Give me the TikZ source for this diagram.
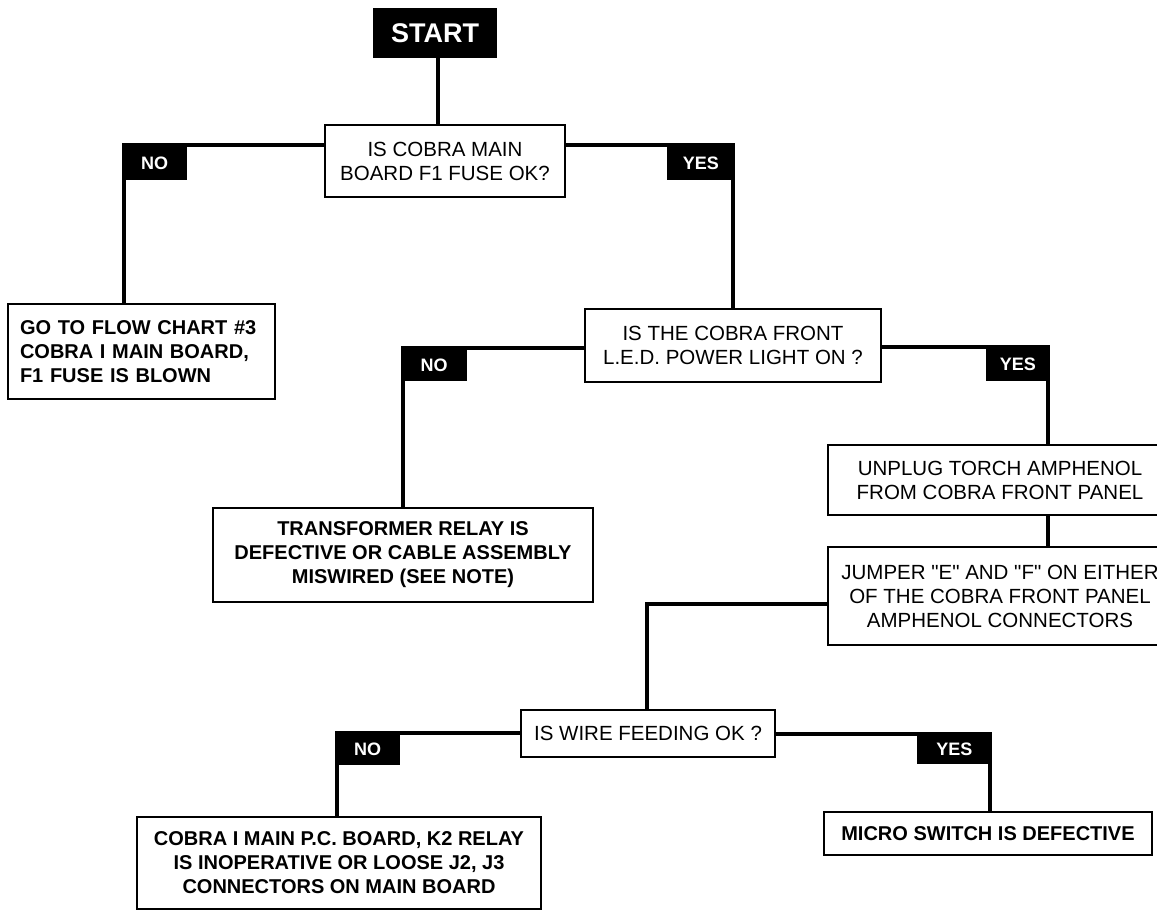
\documentclass[tikz,border=0pt]{standalone}
\usepackage{fontspec}
\setmainfont{Liberation Sans}
\newfontfamily\plainq{Liberation Sans}[Ligatures=ResetAll]
\newcommand{\sq}{{\plainq\symbol{34}}}
\begin{document}
\begin{tikzpicture}[x=1pt,y=-1pt,
  box/.style={draw=black,line width=1.8pt,fill=white,inner sep=0pt,align=center,
    font=\fontsize{20.5}{24}\selectfont},
  qbox/.style={box},
  rbox/.style={box,font=\fontsize{20}{24}\selectfont\bfseries},
  lab/.style={fill=black,text=white,inner sep=0pt,minimum height=34pt,
    font=\fontsize{18}{20}\selectfont\bfseries},
  conn/.style={draw=black,line width=3.6pt}]
\useasboundingbox (0,0) rectangle (1157,911);
\clip (0,0) rectangle (1157,911);
% nodes
\node[fill=black,text=white,inner sep=0pt,minimum width=124pt,minimum height=50pt,
  font=\fontsize{27}{30}\selectfont\bfseries] (start) at (435,33) {START};
\node[qbox,minimum width=240pt,minimum height=72pt] (q1) at (445,161)
  {IS COBRA MAIN\\BOARD F1 FUSE OK?};
\node[rbox,minimum width=267pt,minimum height=95pt,text width=255pt,align=left,inner xsep=6pt] (r1) at (141.5,351.5)
  {\hspace*{6pt}GO TO FLOW CHART \#3\\\hspace*{6pt}COBRA I MAIN BOARD,\\\hspace*{6pt}F1 FUSE IS BLOWN};
\node[qbox,minimum width=296pt,minimum height=73pt] (q2) at (733,345.5)
  {IS THE COBRA FRONT\\L.E.D. POWER LIGHT ON ?};
\node[rbox,minimum width=380pt,minimum height=94pt] (r2) at (403,555)
  {TRANSFORMER RELAY IS\\DEFECTIVE OR CABLE ASSEMBLY\\MISWIRED (SEE NOTE)};
\node[qbox,minimum width=344pt,minimum height=70pt] (a1) at (1000,480)
  {UNPLUG TORCH AMPHENOL\\FROM COBRA FRONT PANEL};
\node[qbox,minimum width=344pt,minimum height=98pt] (a2) at (1000,596)
  {JUMPER \sq E\sq{} AND \sq F\sq{} ON EITHER\\OF THE COBRA FRONT PANEL\\AMPHENOL CONNECTORS};
\node[qbox,minimum width=254pt,minimum height=47pt] (q3) at (648,733.5)
  {IS WIRE FEEDING OK ?};
\node[rbox,minimum width=404pt,minimum height=92pt] (r3) at (339,863)
  {COBRA I MAIN P.C. BOARD, K2 RELAY\\IS INOPERATIVE OR LOOSE J2, J3\\CONNECTORS ON MAIN BOARD};
\node[rbox,minimum width=328pt,minimum height=43pt] (r4) at (988,833.5)
  {MICRO SWITCH IS DEFECTIVE};
% corners
\coordinate (c1) at (124,145);
\coordinate (c2) at (733,145);
\coordinate (c3) at (403,348);
\coordinate (c4) at (1048,347);
\coordinate (c5) at (647,604);
\coordinate (c6) at (337,733);
\coordinate (c7) at (990,734);
\coordinate (s1) at (438,0);
% connectors
\draw[conn] (start.south -| s1) -- (q1.north -| s1);
\draw[conn] (q1.west |- c1) -- (c1) -- (c1 |- r1.north);
\draw[conn] (q1.east |- c2) -- (c2) -- (c2 |- q2.north);
\draw[conn] (q2.west |- c3) -- (c3) -- (c3 |- r2.north);
\draw[conn] (q2.east |- c4) -- (c4) -- (c4 |- a1.north);
\draw[conn] (a1.south -| c4) -- (a2.north -| c4);
\draw[conn] (a2.west |- c5) -- (c5) -- (c5 |- q3.north);
\draw[conn] (q3.west |- c6) -- (c6) -- (c6 |- r3.north);
\draw[conn] (q3.east |- c7) -- (c7) -- (c7 |- r4.north);
% labels
\node[lab,minimum width=65pt,anchor=north west] (no1) at ([xshift=-2pt,yshift=-1pt]c1) {NO};
\node[lab,minimum width=68pt,anchor=north east] (yes1) at ([xshift=2pt,yshift=-1pt]c2) {YES};
\node[lab,minimum width=66pt,minimum height=32pt,anchor=north west] (no2) at ([xshift=-2pt,yshift=-1pt]c3) {NO};
\node[lab,minimum width=64pt,minimum height=33pt,anchor=north east] (yes2) at ([xshift=2pt,yshift=-1pt]c4) {YES};
\node[lab,minimum width=65pt,minimum height=31pt,anchor=north west] (no3) at ([xshift=-2pt,yshift=-1pt]c6) {NO};
\node[lab,minimum width=75pt,minimum height=29pt,anchor=north east] (yes3) at ([xshift=2pt,yshift=-1pt]c7) {YES};
\end{tikzpicture}
\end{document}
